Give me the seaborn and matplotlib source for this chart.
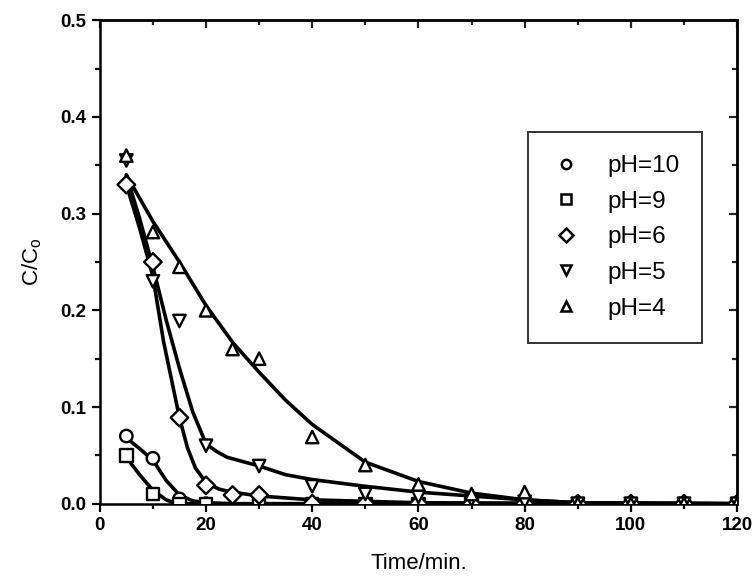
import numpy as np
import pandas as pd
import matplotlib
matplotlib.use('Agg')
import matplotlib.pyplot as plt
import seaborn as sns
from matplotlib.ticker import MultipleLocator, FormatStrFormatter

# ------------------------
# Datos medidos (marcadores)
# ------------------------
labels = ["pH=10", "pH=9", "pH=6", "pH=5", "pH=4"]
markers = ["o", "s", "D", "v", "^"]

t_ph10 = [5, 10, 15, 20, 30, 40, 50, 60, 70, 80, 90, 100, 110, 120]
c_ph10 = [0.070, 0.047, 0.005, 0.0, 0.0, 0.0, 0.0, 0.0, 0.0, 0.0, 0.0, 0.0, 0.0, 0.0]

t_ph9 = [5, 10, 15, 20, 30, 40, 50, 60, 70, 80, 90, 100, 110, 120]
c_ph9 = [0.050, 0.010, 0.0, 0.0, 0.0, 0.0, 0.0, 0.0, 0.0, 0.0, 0.0, 0.0, 0.0, 0.0]

t_ph6 = [5, 10, 15, 20, 25, 30, 40, 50, 60, 70, 80, 90, 100, 110, 120]
c_ph6 = [0.330, 0.250, 0.089, 0.019, 0.009, 0.009, 0.0, 0.0, 0.0, 0.0, 0.0, 0.0, 0.0, 0.0, 0.0]

t_ph5 = [5, 10, 15, 20, 30, 40, 50, 60, 70, 80, 90, 100, 110, 120]
c_ph5 = [0.355, 0.230, 0.189, 0.060, 0.039, 0.018, 0.010, 0.007, 0.004, 0.002, 0.0, 0.0, 0.0, 0.0]

t_ph4 = [5, 10, 15, 20, 25, 30, 40, 50, 60, 70, 80, 90, 100, 110, 120]
c_ph4 = [0.360, 0.281, 0.245, 0.200, 0.160, 0.150, 0.069, 0.040, 0.020, 0.010, 0.012, 0.0, 0.0, 0.0, 0.0]

# ------------------------
# Curvas ajustadas
# ------------------------
ft_ph10 = [5, 7.5, 10, 12.5, 15, 17.5, 20, 25, 120]
fc_ph10 = [0.068, 0.057, 0.045, 0.024, 0.009, 0.003, 0.001, 0.0, 0.0]

ft_ph9 = [5, 7.5, 10, 12.5, 14.5, 120]
fc_ph9 = [0.048, 0.030, 0.014, 0.004, 0.0, 0.0]

ft_ph6 = [5, 7.5, 10, 12, 15, 16.5, 18, 20, 22.5, 25, 30, 40, 60, 120]
fc_ph6 = [0.330, 0.285, 0.235, 0.168, 0.089, 0.058, 0.037, 0.022, 0.015, 0.012, 0.008, 0.004, 0.001, 0.0]

ft_ph5 = [5, 7.5, 10, 12.5, 15, 17.5, 20, 22, 24, 30, 35, 40, 50, 60, 70, 80, 90, 120]
fc_ph5 = [0.340, 0.295, 0.245, 0.190, 0.140, 0.095, 0.062, 0.054, 0.048, 0.039, 0.030, 0.025, 0.018, 0.012, 0.008, 0.004, 0.001, 0.0]

ft_ph4 = [5, 10, 15, 20, 25, 30, 35, 40, 50, 60, 70, 80, 90, 120]
fc_ph4 = [0.340, 0.292, 0.250, 0.205, 0.167, 0.136, 0.107, 0.082, 0.043, 0.023, 0.011, 0.004, 0.001, 0.0]

pts = pd.concat([
    pd.DataFrame({"t": t, "c": c, "serie": lab})
    for t, c, lab in [(t_ph10, c_ph10, "pH=10"), (t_ph9, c_ph9, "pH=9"),
                      (t_ph6, c_ph6, "pH=6"), (t_ph5, c_ph5, "pH=5"),
                      (t_ph4, c_ph4, "pH=4")]
])
fits = pd.concat([
    pd.DataFrame({"t": t, "c": c, "serie": lab})
    for t, c, lab in [(ft_ph10, fc_ph10, "pH=10"), (ft_ph9, fc_ph9, "pH=9"),
                      (ft_ph6, fc_ph6, "pH=6"), (ft_ph5, fc_ph5, "pH=5"),
                      (ft_ph4, fc_ph4, "pH=4")]
])

# ------------------------
# Estilo
# ------------------------
sns.set_style("ticks")
plt.rcParams['font.family'] = ['Liberation Sans', 'DejaVu Sans']
plt.rcParams['text.color'] = 'black'
plt.rcParams['axes.labelcolor'] = 'black'

fig = plt.figure(figsize=(7.56, 5.79), dpi=100)
ax = fig.add_axes([0.132, 0.130, 0.843, 0.835])

# Curvas
sns.lineplot(data=fits, x="t", y="c", units="serie", estimator=None,
             color="black", lw=2.6, ax=ax, legend=False, sort=False)

# Marcadores
sns.scatterplot(data=pts, x="t", y="c", hue="serie", style="serie",
                hue_order=labels, style_order=labels,
                markers=dict(zip(labels, markers)),
                palette=["black"] * 5, ax=ax,
                s=80, linewidth=1.7, edgecolor="black", zorder=5)
for coll in ax.collections:
    coll.set_facecolor("white")
    coll.set_edgecolor("black")

ax.set_xlim(0, 120)
ax.set_ylim(0, 0.5)
ax.xaxis.set_major_locator(MultipleLocator(20))
ax.xaxis.set_minor_locator(MultipleLocator(10))
ax.yaxis.set_major_locator(MultipleLocator(0.1))
ax.yaxis.set_minor_locator(MultipleLocator(0.05))
ax.yaxis.set_major_formatter(FormatStrFormatter('%.1f'))

for sp in ax.spines.values():
    sp.set_visible(True)
    sp.set_linewidth(1.8)
    sp.set_color("black")

ax.tick_params(which="both", direction="out", top=False, right=False,
               width=1.6, colors="black", labelsize=13.5)
ax.tick_params(which="major", length=6)
ax.tick_params(which="minor", length=3.5)

sec_x = ax.secondary_xaxis("top")
sec_x.xaxis.set_major_locator(MultipleLocator(20))
sec_x.xaxis.set_minor_locator(MultipleLocator(10))
sec_x.tick_params(which="both", direction="in", labeltop=False, width=1.6)
sec_x.tick_params(which="major", length=6)
sec_x.tick_params(which="minor", length=3.5)
sec_x.spines["top"].set_linewidth(1.8)
sec_y = ax.secondary_yaxis("right")
sec_y.yaxis.set_major_locator(MultipleLocator(0.1))
sec_y.yaxis.set_minor_locator(MultipleLocator(0.05))
sec_y.tick_params(which="both", direction="in", labelright=False, width=1.6)
sec_y.tick_params(which="major", length=6)
sec_y.tick_params(which="minor", length=3.5)
sec_y.spines["right"].set_linewidth(1.8)

for lab in ax.get_xticklabels() + ax.get_yticklabels():
    lab.set_fontweight("bold")

ax.set_xlabel("Time/min.", fontsize=16, labelpad=14)
ax.set_ylabel("C/C$_\\mathregular{o}$", fontsize=16, labelpad=12)

leg = ax.legend(loc="upper left", bbox_to_anchor=(0.672, 0.769),
                frameon=True, fancybox=False, fontsize=17.5, markerscale=0.75,
                handletextpad=1.1, labelspacing=0.56, borderpad=0.95,
                borderaxespad=0, handlelength=1.2)
leg.get_frame().set_edgecolor("black")
leg.get_frame().set_linewidth(1.4)
for h in leg.legend_handles:
    if hasattr(h, "set_markerfacecolor"):
        h.set_markerfacecolor("white")
        h.set_markeredgecolor("black")
        h.set_markeredgewidth(1.8)

fig.savefig("out.png", dpi=100)
